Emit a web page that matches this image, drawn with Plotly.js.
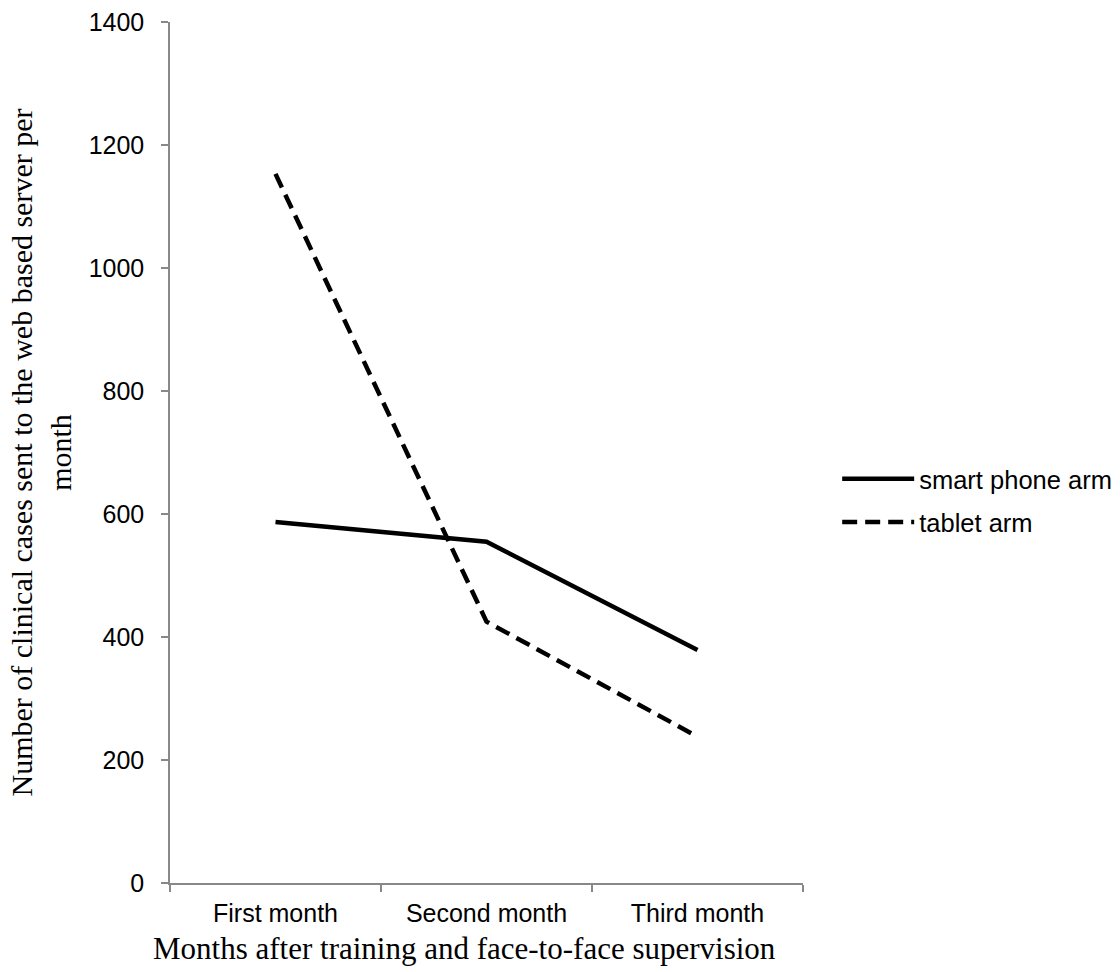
<!DOCTYPE html>
<html><head><meta charset="utf-8">
<script src="https://cdn.plot.ly/plotly-3.0.1.min.js"></script>
<style>body{margin:0;background:#fff}#chart{width:1120px;height:972px}</style>
</head><body><div id="chart"></div>
<script>
const months = ["First month", "Second month", "Third month"];
const smartPhone = [587, 555, 379];
const tablet = [1153, 425, 238];
const seriesNames = ["smart phone arm", "tablet arm"];
const xTitle = 'Months after training and face-to-face supervision';
const yTitle = 'Number of clinical cases sent to the web based server per<br>month';

const traces = [
  {x: months, y: smartPhone, name: seriesNames[0], type: 'scatter', mode: 'lines',
   line: {color: '#000', width: 4.5}, legendgroup: 'a'},
  {x: months, y: tablet, name: seriesNames[1], type: 'scatter', mode: 'lines',
   line: {color: '#000', width: 4.5, dash: '15px,8px'}, legendgroup: 'b'}
];
const layout = {
  width: 1120, height: 972,
  margin: {l: 170, r: 317, t: 22, b: 89, autoexpand: false},
  paper_bgcolor: '#fff', plot_bgcolor: '#fff',
  showlegend: true,
  legend: {x: 1.054, y: 0.444, yanchor: 'middle', xanchor: 'left',
    font: {family: 'Liberation Sans, Arial', size: 25.5, color: '#000'},
    itemwidth: 72, tracegroupgap: 7, traceorder: 'grouped'},
  xaxis: {type: 'category', range: [-0.5, 2.5], tickson: 'boundaries',
    showline: true, linecolor: '#888', linewidth: 1.5,
    ticks: 'outside', ticklen: 7, tickcolor: '#888', tickwidth: 1.5,
    ticklabelstandoff: 7,
    showgrid: false, zeroline: false,
    tickfont: {family: 'Liberation Sans, Arial', size: 25, color: '#000'}},
  yaxis: {range: [0, 1400], dtick: 200, tick0: 0,
    showline: true, linecolor: '#888', linewidth: 1.5,
    ticks: 'outside', ticklen: 7, tickcolor: '#888', tickwidth: 1.5,
    ticklabelstandoff: 12,
    showgrid: false, zeroline: false,
    tickfont: {family: 'Liberation Sans, Arial', size: 25, color: '#000'},
    title: {text: yTitle,
      font: {family: 'Liberation Serif, Times New Roman', size: 30, color: '#000'}, standoff: 8}},
  annotations: [{text: xTitle, xref: 'paper', yref: 'paper', x: 0.466, y: -0.0755,
    xanchor: 'center', yanchor: 'middle', showarrow: false,
    font: {family: 'Liberation Serif, Times New Roman', size: 31, color: '#000'}}]
};
Plotly.newPlot('chart', traces, layout, {displayModeBar: false});
</script></body></html>
